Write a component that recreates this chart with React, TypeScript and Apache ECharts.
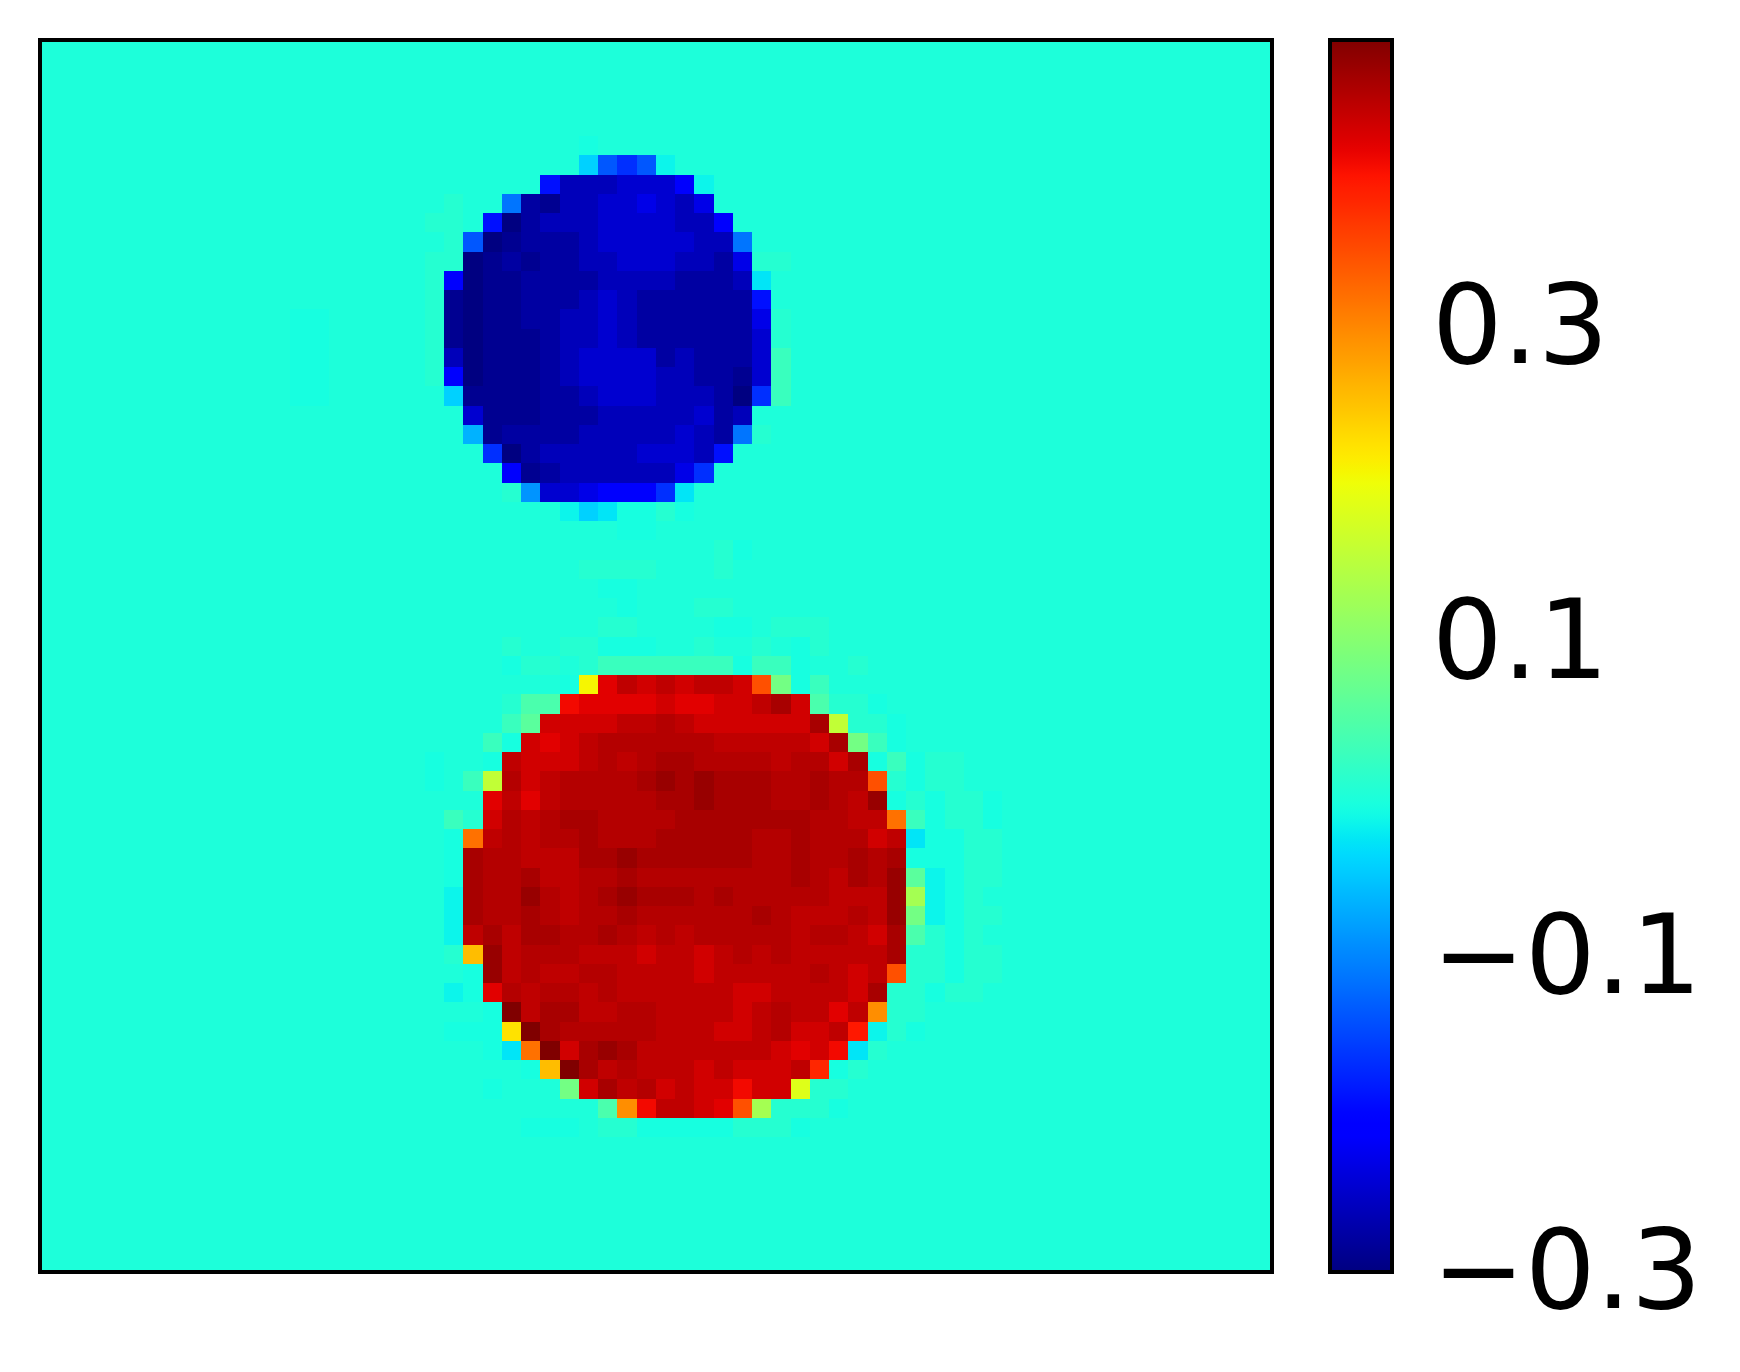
import React, { useEffect, useRef } from "react";
import * as echarts from "echarts";

const GRID_SIZE = 64;
const VALUE_MIN = -0.3034;
const VALUE_MAX = 0.479;
const colorbarTicks = [-0.3, -0.1, 0.1, 0.3];

const levelCodes = "ABCDEFGHIJKLMNOPQ.,;:+=stuvwxyz0123456789!";
const levelValues = [
  -0.303, -0.292, -0.28, -0.264, -0.249, -0.233, -0.217, -0.194, -0.17, -0.139, -0.116, -0.092, -0.069, -0.045,
  -0.03, -0.018, -0.0075, -0.002, 0.0058, 0.025, 0.041, 0.0565, 0.08, 0.127, 0.154, 0.182, 0.205, 0.221, 0.252,
  0.291, 0.315, 0.342, 0.377, 0.389, 0.401, 0.4125, 0.424, 0.436, 0.444, 0.452, 0.463, 0.479,
];
const backgroundCode = ".";

// [row, first column, one level code per cell]
const faintRows: [number, number, string][] = [
  [8, 21, ","], [9, 20, ","], [9, 21, ","], [10, 21, ","], [11, 20, ",,"], [12, 20, ","], [13, 20, ","],
  [14, 13, "QQ"], [14, 20, ","], [15, 13, "QQ"], [15, 20, ","], [16, 13, "QQ"], [16, 20, ","], [17, 13, "QQ"],
  [17, 20, ","], [18, 13, "QQ"], [11, 37, ",,"], [15, 38, ","], [14, 38, ","],
  [5, 28, "Q"], [25, 30, "QQ"], [26, 35, ",Q"], [27, 28, ",,,,"], [27, 35, ","], [28, 29, "QQ"], [29, 30, "Q"], [29, 34, ",,"],
  [30, 29, ",,"], [30, 35, "QQ"], [30, 38, ",,,"], [31, 24, ","], [31, 27, ",,QQQ"], [31, 34, ","], [31, 37, ",.Q,"],
  [32, 42, ","], [37, 20, "Q"], [38, 20, "Q"], [47, 46, ",Q,,"], [48, 46, ",Q,,"], [49, 46, "Q,,"], [50, 44, ",,"],
  [56, 25, "QQQ.,,QQQQQ,,,Q"],
];

const blueRows: [number, number, string][] = [
  [6, 28, "NJIJP"],
  [7, 26, "HDDDEEEGP"],
  [8, 24, "KCBDDEEFEDF"],
  [9, 23, "HACDDDEEEEDDG"],
  [10, 22, "JABCCCDEEEEEDDK"],
  [11, 22, "ABCBCCDDEEEDDCF"],
  [12, 21, "GABBCCCCDDDDCCCDO"],
  [13, 21, "BABBCCCDEDCCCCCCH"],
  [14, 21, "BABBCCDDEDCCCCCCF"],
  [15, 21, "BABBBCDDEDCCCCCCE"],
  [16, 21, "DABBBCDEEEECDCCCE;"],
  [17, 21, "GABBBCDEEEEDDCCBE;"],
  [18, 21, "NBBBBCCDEEEDDDCAI;"],
  [19, 22, "EBBBCCCDDDDDECD"],
  [20, 22, "MBCCCCDDDDDEDCK,"],
  [21, 23, "IACDDDDDEEEDH"],
  [22, 24, "GBCDDDDDDFI"],
  [23, 24, ",LEEFGGGIO"],
  [24, 27, "PNOQQ,Q"],
];

const redRows: [number, number, string][] = [
  [32, 24, "Q,,.,;;;;;;;Q;;Q"],
  [33, 27, "Qv465656650=Q;"],
  [34, 24, ",::3444454455685:,,Q"],
  [35, 24, ";+555566765555558t,,Q"],
  [36, 23, ";Q54567777776666658=;Q"],
  [37, 23, "Q6555676788777767758Q;Q,,"],
  [38, 22, ";t75677778989888778770,Q,,"],
  [39, 23, "464677777889888778769Q,Q,,Q"],
  [40, 21, ";,576788777788888887766z;Q,,Q"],
  [41, 21, "Qz6767787778888877877756OQQ,,"],
  [42, 21, "Q87766688988888877877878QQQ,,"],
  [43, 21, "Q87786677877777777876879+PQ,,"],
  [44, 21, "P87797678988878777776669sPQ,"],
  [45, 21, "P87787677877777787666769=PQ,,"],
  [46, 21, "P68688778767677777677658:,Q,"],
  [47, 21, ",x9677766656656767666668,"],
  [48, 22, "Q9676677666656666676560,"],
  [49, 21, "PQ476776766666655666658,,"],
  [50, 23, "Q!688667766665676646y"],
  [51, 21, "QQQw!87777766655675562P,Q"],
  [52, 23, "QOz!589866666665453O,"],
  [53, 25, "Qx!8676665655561Q,"],
  [54, 23, "Q...=58675655355u,,"],
  [55, 29, ":y366540s,,,Q"],
];

const columnLabels = Array.from({ length: GRID_SIZE }, (_, i) => String(i));
const rowLabels = Array.from({ length: GRID_SIZE }, (_, i) => String(i));

function buildCells() {
  const matrix: string[][] = rowLabels.map(() => columnLabels.map(() => backgroundCode));
  [...faintRows, ...blueRows, ...redRows].forEach(([row, start, codes]) => {
    codes.split("").forEach((code, i) => {
      matrix[row][start + i] = code;
    });
  });
  const cells: [number, number, number][] = [];
  matrix.forEach((row, r) =>
    row.forEach((code, c) => cells.push([c, r, levelValues[levelCodes.indexOf(code)]]))
  );
  return cells;
}

// matplotlib "jet" colour map
function piece(t: number, stops: number[][]) {
  for (let i = 1; i < stops.length; i++) {
    if (t <= stops[i][0]) {
      const [a, va] = stops[i - 1];
      const [b, vb] = stops[i];
      return va + ((vb - va) * (t - a)) / (b - a);
    }
  }
  return stops[stops.length - 1][1];
}
const jetRed = [[0, 0], [0.35, 0], [0.66, 1], [0.89, 1], [1, 0.5]];
const jetGreen = [[0, 0], [0.125, 0], [0.375, 1], [0.64, 1], [0.91, 0], [1, 0]];
const jetBlue = [[0, 0.5], [0.11, 1], [0.34, 1], [0.65, 0], [1, 0]];
const jetColors = Array.from({ length: 129 }, (_, i) => {
  const t = i / 128;
  const ch = (s: number[][]) => Math.round(piece(t, s) * 255);
  return `rgb(${ch(jetRed)},${ch(jetGreen)},${ch(jetBlue)})`;
});

export default function App() {
  const ref = useRef<HTMLDivElement>(null);
  useEffect(() => {
    const chart = echarts.init(ref.current!, undefined, { renderer: "svg" });
    chart.setOption({
      animation: false,
      backgroundColor: "#ffffff",
      grid: [
        { left: 40, top: 40, width: 1232, height: 1232, show: true, backgroundColor: "transparent", borderColor: "#000", borderWidth: 4.2, z: 10 },
        { left: 1330, top: 40, width: 62, height: 1232, show: true, backgroundColor: "transparent", borderColor: "#000", borderWidth: 4.2, z: 10 },
      ],
      xAxis: [
        { type: "category", gridIndex: 0, data: columnLabels, show: false },
        { type: "value", gridIndex: 1, min: 0, max: 1, show: false },
      ],
      yAxis: [
        { type: "category", gridIndex: 0, data: rowLabels, inverse: true, show: false },
        {
          type: "value",
          gridIndex: 1,
          position: "right",
          min: VALUE_MIN,
          max: VALUE_MAX,
          splitLine: { show: false },
          axisLine: { show: false },
          axisTick: { show: true, customValues: colorbarTicks, length: 19, lineStyle: { color: "#000", width: 4 } },
          axisLabel: {
            show: true,
            customValues: colorbarTicks,
            margin: 40,
            verticalAlign: "top",
            lineHeight: 6,
            color: "#000",
            fontFamily: "DejaVu Sans",
            fontSize: 111,
            formatter: (v: number) => (v < 0 ? "\u2212" : "") + Math.abs(v).toFixed(1),
          },
        },
      ],
      visualMap: {
        type: "continuous",
        seriesIndex: 0,
        min: VALUE_MIN,
        max: VALUE_MAX,
        calculable: false,
        hoverLink: false,
        orient: "vertical",
        left: 1330,
        top: 40,
        padding: 0,
        itemWidth: 62,
        itemHeight: 1232,
        text: ["", ""],
        textGap: 0,
        inRange: { color: jetColors },
      },
      series: [
        {
          type: "heatmap",
          xAxisIndex: 0,
          yAxisIndex: 0,
          data: buildCells(),
          progressive: 0,
          silent: true,
          emphasis: { disabled: true },
        },
      ],
    });
    return () => chart.dispose();
  }, []);
  return (
    <>
      <style>{"#root svg path{shape-rendering:crispEdges}"}</style>
      <div ref={ref} style={{ position: "fixed", left: 0, top: 0, width: 1740, height: 1372 }} />
    </>
  );
}
